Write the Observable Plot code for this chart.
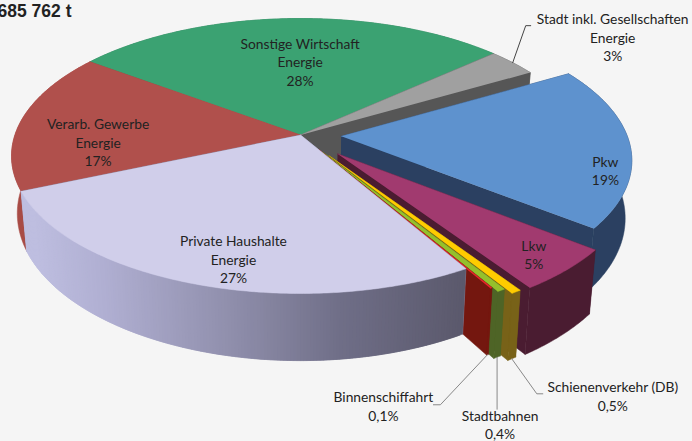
<!DOCTYPE html>
<html><head><meta charset="utf-8">
<script src="https://cdn.jsdelivr.net/npm/d3@7"></script>
<script src="https://cdn.jsdelivr.net/npm/@observablehq/plot@0.6"></script>
<style>html,body{margin:0;padding:0;background:#f5f5f5;overflow:hidden}svg{display:block}</style>
</head><body><div id="chart"></div>
<script>
// Data, clockwise from the Pkw slice
const categories = ["Pkw","Lkw","Schienenverkehr (DB)","Stadtbahnen","Binnenschiffahrt","Private Haushalte\nEnergie","Verarb. Gewerbe\nEnergie","Sonstige Wirtschaft\nEnergie","Stadt inkl. Gesellschaften\nEnergie"];
const shares = [19,5,0.5,0.4,0.1,27,16.6,28.3,3.3];
const shareLabels = ["19%","5%","0,5%","0,4%","0,1%","27%","17%","28%","3%"];
const totalLabel = "685 762 t";

// Styling and layout
const topColors  = ["#5E92CE","#A13A6F","#FFCC00","#95C02C","#E8262A","#D0CEEA","#B0504C","#3BA272","#A0A0A0"];
const wallColors = ["#2B4061","#4A1C31","#786218","#4E6426","#74170F",null,"#A84B45","#2A7A55","#565656"];
const explode    = [0.143,0.188,0.18,0.15,0.125,0,0,0,0];
const drawOrder  = [7,8,6,0,1,2,3,4,5];
const lilacStops = ["#BEBEE0","#B0AFD2","#8F8EAB","#6F6E87","#5A586B"];
const lilacAt    = [-0.93,-0.69,-0.24,0.14,0.58];
// Label anchor on each slice: radius in the pie plane and pixel nudge
const labelR     = [0.75,0.75,1,1,1,0.6,0.6,0.6,1];
const nudge      = [[48,26.5],[30,16],[101,37],[3,67],[-104,51],[-8,40],[-34,16],[7,0],[100,-26]];
// Leader elbows, in pixels from the slice's rim point
const leaderElbows = {2:[[25,35],[31,35]],3:[[0,52]],4:[[-47,50],[-54,50]],8:[[13,-37],[18,-37]]};
const leaderColors = {2:"#888",3:"#888",4:"#888",8:"#444"};

const W=692,H=441,k=-0.153,q=Math.sqrt(1-k*k);
const project=(u,v)=>({X:u*q/(1+k*v),Y:(v+k)/(1+k*v)});
const lower=p=>({X:0.98*p.X,Y:1.07*p.Y+0.418});
const pxX=d=>d/289,pxY=d=>d/137.5;

const arcs=d3.pie().sort(null).startAngle(Math.PI/3).endAngle(Math.PI/3+2*Math.PI)(shares);
const rows=[];let pid=0;
const addPoly=(pts,fill)=>{pid++;for(const p of pts)rows.push({id:pid,X:p.X,Y:p.Y,fill});};
const lilac=d3.scaleLinear().domain(lilacAt).range(lilacStops).interpolate(d3.interpolateRgb).clamp(true);

const geom=i=>{const a=arcs[i],m=(a.startAngle+a.endAngle)/2,e=explode[i];
  const ou=e*Math.sin(m),ov=-e*Math.cos(m);
  const at=(t,r=1)=>project(ou+r*Math.sin(t),ov-r*Math.cos(t));
  return {a,m,at};};

for(const i of drawOrder){
  const {a,at}=geom(i);
  const n=Math.max(4,Math.ceil((a.endAngle-a.startAngle)/0.01));
  const ts=d3.range(n+1).map(j=>a.startAngle+(a.endAngle-a.startAngle)*j/n);
  const rim=ts.map(t=>at(t));
  const apex=at(0,0);
  const wall=wallColors[i]||"#8F8EAB";
  for(const e of [rim[0],rim[n]])addPoly([apex,e,lower(e),lower(apex)],wall);
  if(wallColors[i]) addPoly([...rim,...rim.map(lower).reverse()],wall);
  else for(let j=0;j<n;j++){const p=rim[j],r=rim[Math.min(j+2,n)];addPoly([p,r,lower(r),lower(p)],d3.rgb(lilac(rim[j+1].X)).formatHex());}
  addPoly([apex,...rim],topColors[i]);
}

const labels=categories.map((c,i)=>{const {m,at}=geom(i);
  let p=at(m,labelR[i]);
  if(i>=2&&i<=4)p=lower(at(m,1));
  return {X:p.X+pxX(nudge[i][0]),Y:p.Y+pxY(nudge[i][1]),text:c+"\n"+shareLabels[i]};});

const leaderRows=[];
for(const key of Object.keys(leaderElbows)){const i=+key,{m,at}=geom(i);
  const s=i==8?at(m,1):lower(at(m,1));
  leaderRows.push({id:i,X:s.X,Y:s.Y,c:leaderColors[i]});
  for(const [dx,dy] of leaderElbows[i])leaderRows.push({id:i,X:s.X+pxX(dx),Y:s.Y+pxY(dy),c:leaderColors[i]});
}

const plot=Plot.plot({width:W,height:H,margin:0,
  x:{axis:null,domain:[-1,1],range:[11,589]},
  y:{axis:null,domain:[-1,1],range:[18,293]},
  color:{type:"identity"},
  marks:[
    Plot.line(rows,{x:"X",y:"Y",z:"id",fill:"fill",stroke:"fill",strokeWidth:0.5,curve:"linear"}),
    Plot.line(leaderRows,{x:"X",y:"Y",z:"id",stroke:"c",strokeWidth:1,curve:"linear"}),
    Plot.text(labels,{x:"X",y:"Y",text:"text",fontFamily:"Lato",fontSize:13.8,lineHeight:1.34,fill:"#222",textAnchor:"middle",lineAnchor:"middle"}),
    Plot.text([totalLabel],{frameAnchor:"top-left",textAnchor:"end",lineAnchor:"top",dx:71,dy:4,fontFamily:"Liberation Sans",fontWeight:"bold",fontSize:17.5,fill:"#222"})
  ],
  style:{background:"transparent"}
});
document.getElementById("chart").append(plot);
</script></body></html>
